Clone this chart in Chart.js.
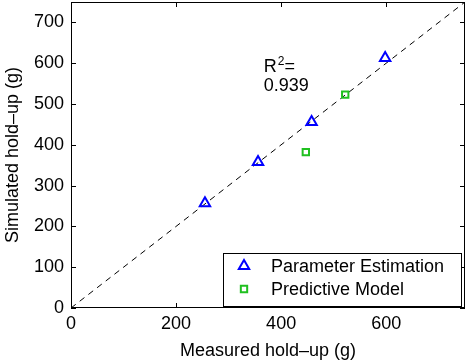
<!DOCTYPE html>
<html lang="en">
<head>
    <meta charset="UTF-8">
    <title>Simulated vs measured hold-up</title>
    <script src="https://cdn.jsdelivr.net/npm/chart.js"></script>
    <style>
        body { margin: 0; background: #fff; }
        .chart-box { position: relative; width: 468px; height: 364px; }
    </style>
</head>
<body>
    <div class="chart-box">
        <canvas id="holdupChart"></canvas>
    </div>

    <script>
        // Data
        const paramMeasured = [255, 356, 458, 598];
        const paramSimulated = [257, 358, 456, 613];
        const predMeasured = [447, 522];
        const predSimulated = [382, 523];
        const diagonal = [0, 750];
        const xTicks = [0, 200, 400, 600];
        const yTicks = [0, 100, 200, 300, 400, 500, 600, 700];
        const rSquared = '0.939';

        const FONT = 'Liberation Sans, Arial, Helvetica, sans-serif';

        function toPoints(xs, ys) {
            return xs.map((x, i) => ({ x: x, y: ys[i] }));
        }

        // box around the plot, inward ticks, R^2 note and the legend
        const framePlugin = {
            id: 'frame',
            afterDatasetsDraw(chart) {
                const ctx = chart.ctx;
                const a = chart.chartArea;
                const xs = chart.scales.x, ys = chart.scales.y;
                ctx.save();
                ctx.strokeStyle = '#000';
                ctx.lineWidth = 1;
                ctx.strokeRect(a.left + 0.5, a.top + 0.5, a.right - a.left - 1, a.bottom - a.top - 1);

                const tl = 5;
                ctx.beginPath();
                xTicks.forEach(v => {
                    const px = Math.round(xs.getPixelForValue(v)) + 0.5;
                    ctx.moveTo(px, a.bottom); ctx.lineTo(px, a.bottom - tl);
                    ctx.moveTo(px, a.top); ctx.lineTo(px, a.top + tl);
                });
                yTicks.forEach(v => {
                    const py = Math.round(ys.getPixelForValue(v)) + 0.5;
                    ctx.moveTo(a.left, py); ctx.lineTo(a.left + tl, py);
                    ctx.moveTo(a.right, py); ctx.lineTo(a.right - tl, py);
                });
                ctx.stroke();

                // R^2 annotation
                ctx.fillStyle = '#000';
                ctx.textBaseline = 'alphabetic';
                ctx.textAlign = 'left';
                const tx = xs.getPixelForValue(367);
                const ty = ys.getPixelForValue(578);
                ctx.font = '18px ' + FONT;
                ctx.fillText('R', tx, ty);
                const rw = ctx.measureText('R').width;
                ctx.font = '12px ' + FONT;
                ctx.fillText('2', tx + rw + 1, ty - 7);
                const sw = ctx.measureText('2').width;
                ctx.font = '18px ' + FONT;
                ctx.fillText('=', tx + rw + sw + 1, ty);
                ctx.fillText(rSquared, tx, ty + 19);

                // legend
                const lx = 223, ly = 253, lw = 238, lh = 53;
                ctx.fillStyle = '#fff';
                ctx.fillRect(lx, ly, lw, lh);
                ctx.strokeRect(lx + 0.5, ly + 0.5, lw, lh);
                const entries = chart.data.datasets.filter(d => d.showInLegend);
                entries.forEach((d, i) => {
                    const cy = ly + 13 + i * 23;
                    const cx = lx + 21;
                    ctx.fillStyle = 'rgba(0,0,0,0)';
                    ctx.strokeStyle = d.borderColor;
                    ctx.lineWidth = d.borderWidth;
                    Chart.helpers.drawPoint(ctx, {
                        pointStyle: d.pointStyle,
                        radius: d.pointRadius,
                        borderWidth: d.borderWidth
                    }, cx, cy);
                    ctx.fillStyle = '#000';
                    ctx.font = '18px ' + FONT;
                    ctx.textBaseline = 'middle';
                    ctx.fillText(d.label, lx + 48, cy + 1);
                    ctx.strokeStyle = '#000';
                    ctx.lineWidth = 1;
                });
                ctx.restore();
            }
        };

        const ctx = document.getElementById('holdupChart').getContext('2d');
        const chart = new Chart(ctx, {
            type: 'scatter',
            data: {
                datasets: [
                    {
                        label: 'Parameter Estimation',
                        showInLegend: true,
                        data: toPoints(paramMeasured, paramSimulated),
                        pointStyle: 'triangle',
                        pointRadius: 6,
                        borderWidth: 2,
                        borderColor: '#0000ff',
                        backgroundColor: 'rgba(0,0,0,0)'
                    },
                    {
                        label: 'Predictive Model',
                        showInLegend: true,
                        data: toPoints(predMeasured, predSimulated),
                        pointStyle: 'rect',
                        pointRadius: 4.5,
                        borderWidth: 2,
                        borderColor: '#20c020',
                        backgroundColor: 'rgba(0,0,0,0)'
                    },
                    {
                        label: 'y = x',
                        type: 'line',
                        data: toPoints(diagonal, diagonal),
                        borderColor: '#000',
                        borderWidth: 1,
                        borderDash: [6, 5],
                        pointRadius: 0,
                        fill: false
                    }
                ]
            },
            options: {
                responsive: true,
                maintainAspectRatio: false,
                animation: false,
                layout: {
                    autoPadding: false,
                    padding: { top: 2, right: 3, left: 0, bottom: 0 }
                },
                plugins: {
                    legend: { display: false },
                    tooltip: { enabled: false }
                },
                scales: {
                    x: {
                        type: 'linear',
                        min: 0,
                        max: 750,
                        afterBuildTicks: s => { s.ticks = xTicks.map(v => ({ value: v })); },
                        afterFit: s => {
                            s.height = 56;
                            s.paddingLeft = 0;
                            s.paddingRight = 0;
                        },
                        grid: { display: false, drawTicks: false },
                        border: { display: false },
                        ticks: { color: '#000', padding: 5, font: { family: FONT, size: 18 } },
                        title: {
                            display: true,
                            text: 'Measured hold–up (g)',
                            color: '#000',
                            padding: { top: 0, bottom: 2 },
                            font: { family: FONT, size: 18 }
                        }
                    },
                    y: {
                        type: 'linear',
                        min: 0,
                        max: 750,
                        afterBuildTicks: s => { s.ticks = yTicks.map(v => ({ value: v })); },
                        afterFit: s => {
                            s.width = 71;
                            s.paddingTop = 0;
                            s.paddingBottom = 0;
                        },
                        grid: { display: false, drawTicks: false },
                        border: { display: false },
                        ticks: { color: '#000', padding: 7, font: { family: FONT, size: 18 } },
                        title: {
                            display: true,
                            text: 'Simulated hold–up (g)',
                            color: '#000',
                            padding: { top: 2, bottom: 2 },
                            font: { family: FONT, size: 18 }
                        }
                    }
                }
            },
            plugins: [framePlugin]
        });
    </script>
</body>
</html>
